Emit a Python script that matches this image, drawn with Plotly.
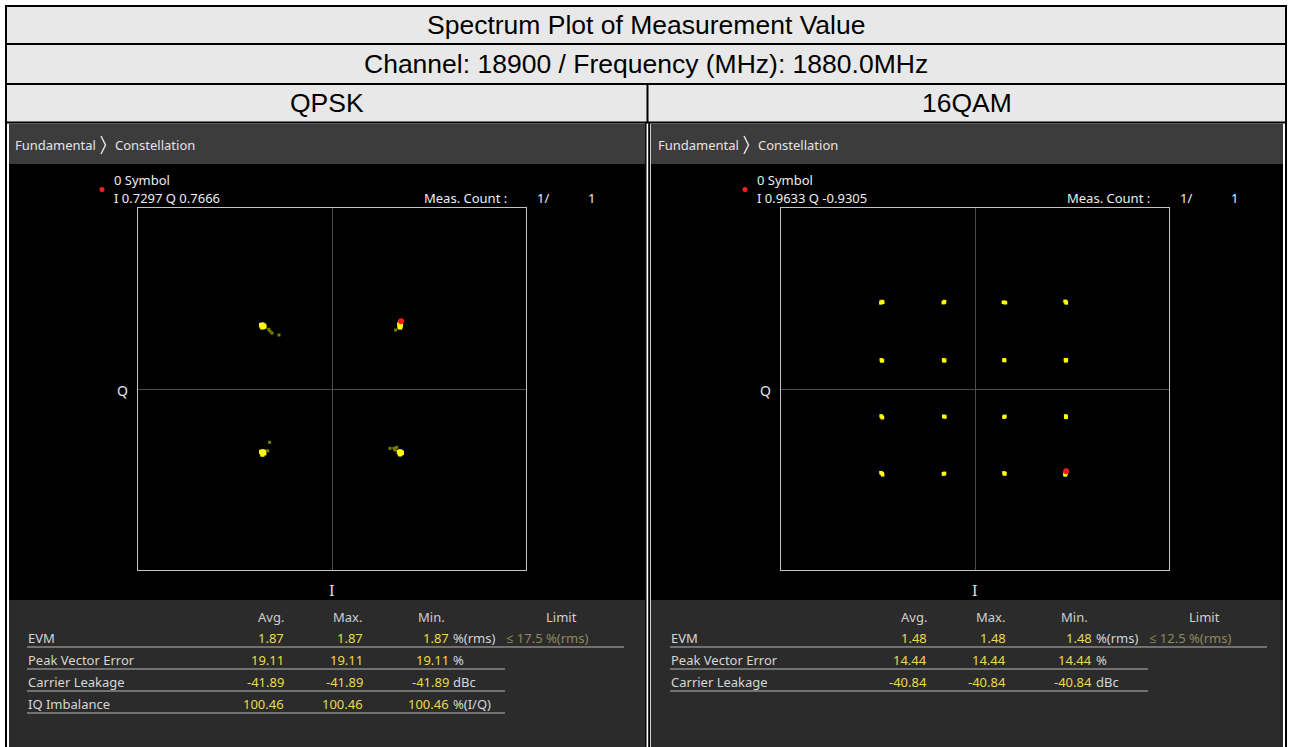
import plotly.graph_objects as go

W, H = 1291, 747

# ---------------- data ----------------
title_rows = ["Spectrum Plot of Measurement Value",
              "Channel: 18900 / Frequency (MHz): 1880.0MHz"]
panel_titles = ["QPSK", "16QAM"]
breadcrumb = ["Fundamental", "Constellation"]

marker_I = [0.7297, 0.9633]
marker_Q = [0.7666, -0.9305]
meas_count = ["1/", "1"]

table_headers = ["Avg.", "Max.", "Min.", "Limit"]
qpsk_metrics = ["EVM", "Peak Vector Error", "Carrier Leakage", "IQ Imbalance"]
qpsk_avg = ["1.87", "19.11", "-41.89", "100.46"]
qpsk_max = ["1.87", "19.11", "-41.89", "100.46"]
qpsk_min = ["1.87", "19.11", "-41.89", "100.46"]
qpsk_units = ["%(rms)", "%", "dBc", "%(I/Q)"]
qpsk_limit = "≤ 17.5 %(rms)"

qam_metrics = ["EVM", "Peak Vector Error", "Carrier Leakage"]
qam_avg = ["1.48", "14.44", "-40.84"]
qam_max = ["1.48", "14.44", "-40.84"]
qam_min = ["1.48", "14.44", "-40.84"]
qam_units = ["%(rms)", "%", "dBc"]
qam_limit = "≤ 12.5 %(rms)"

# constellation symbols
qpsk_I = [-0.750, -0.735, -0.720, -0.745, -0.728, -0.712, -0.738, -0.722,
          0.710, 0.725, 0.718, 0.730, 0.712, 0.726, 0.720,
          -0.750, -0.735, -0.720, -0.742, -0.728, -0.715, -0.735,
          0.705, 0.720, 0.735, 0.712, 0.728, 0.740, 0.720]
qpsk_Q = [0.725, 0.732, 0.722, 0.710, 0.713, 0.708, 0.697, 0.700,
          0.735, 0.740, 0.722, 0.725, 0.705, 0.710, 0.695,
          -0.712, -0.705, -0.710, -0.728, -0.725, -0.730, -0.745,
          -0.712, -0.705, -0.715, -0.728, -0.730, -0.725, -0.742]
qpsk_tail_I = [-0.669, -0.655, -0.634, -0.560, 0.673, -0.659, -0.680, 0.613, 0.655, 0.684, 0.666]
qpsk_tail_Q = [0.676, 0.655, 0.634, 0.612, 0.668, -0.604, -0.700, -0.672, -0.672, -0.660, -0.691]

qam_I = [-0.995, -0.980, -0.975, -0.335, -0.322, -0.328, 0.300, 0.312, 0.322, 0.955, 0.965, 0.962,
         -0.990, -0.978, -0.985, -0.332, -0.320, -0.326, 0.305, 0.314, 0.310, 0.955, 0.966, 0.960,
         -0.992, -0.982, -0.978, -0.330, -0.318, -0.325, 0.306, 0.316, 0.311, 0.958, 0.964, 0.961,
         -0.992, -0.980, -0.976, -0.334, -0.322, -0.328, 0.306, 0.316, 0.312, 0.950, 0.962, 0.956]
qam_Q = [0.975, 0.990, 0.982, 0.978, 0.990, 0.982, 0.982, 0.980, 0.978, 0.992, 0.975, 0.984,
         0.330, 0.322, 0.318, 0.330, 0.325, 0.318, 0.326, 0.322, 0.330, 0.332, 0.330, 0.318,
         -0.305, -0.318, -0.325, -0.310, -0.316, -0.312, -0.318, -0.310, -0.314, -0.305, -0.315, -0.322,
         -0.948, -0.960, -0.972, -0.962, -0.955, -0.960, -0.950, -0.958, -0.962, -0.965, -0.955, -0.972]
qam_tail_I = [-0.995, 0.945, 0.950, -0.998]
qam_tail_Q = [0.995, 0.995, -0.975, -0.945]

# ---------------- helpers ----------------
def X(px):
    return px / W


def Y(py):
    return 1 - py / H


shapes = []
annotations = []


def rect(x0, y0, x1, y1, fill, line_color=None, lw=0, layer="below"):
    shapes.append(dict(type="rect", xref="paper", yref="paper",
                       x0=X(x0), x1=X(x1), y0=Y(y1), y1=Y(y0),
                       fillcolor=fill, layer=layer,
                       line=dict(color=line_color or fill, width=lw)))


def line(x0, y0, x1, y1, color, lw, layer="below"):
    shapes.append(dict(type="line", xref="paper", yref="paper",
                       x0=X(x0), x1=X(x1), y0=Y(y0), y1=Y(y1), layer=layer,
                       line=dict(color=color, width=lw)))


def text(px, py, s, size=13, color="#e0e0e0", anchor="left",
         family="Noto Sans, Open Sans, sans-serif"):
    annotations.append(dict(x=X(px), y=Y(py), xref="paper", yref="paper",
                            text=s, showarrow=False, xanchor=anchor, yanchor="middle",
                            font=dict(size=size, color=color, family=family)))


HDR_FONT = "Liberation Sans, Arial, sans-serif"

# ---------------- header table ----------------
rect(6, 6, 1286, 122, "#e8e8e8")
for yy in [6, 44, 84, 122.5]:
    line(5, yy, 1287, yy, "black", 2)
line(6, 5, 6, 747, "black", 2)
line(1286, 5, 1286, 747, "black", 2)
line(647.5, 84, 647.5, 123, "black", 2)

text(646, 25, title_rows[0], 26.5, "black", "center", HDR_FONT)
text(646, 64.5, title_rows[1], 26.5, "black", "center", HDR_FONT)
text(327, 103.5, panel_titles[0], 26.5, "black", "center", HDR_FONT)
text(967, 103.5, panel_titles[1], 26.5, "black", "center", HDR_FONT)

# ---------------- panels ----------------
YEL = "#e8dc4a"
LIM = "#8f8a5c"
LBL = "#d6d6d6"

panels = [
    dict(off=0, x0=9, x1=645, metrics=qpsk_metrics, avg=qpsk_avg, mx=qpsk_max,
         mn=qpsk_min, units=qpsk_units, limit=qpsk_limit),
    dict(off=643, x0=651, x1=1283, metrics=qam_metrics, avg=qam_avg, mx=qam_max,
         mn=qam_min, units=qam_units, limit=qam_limit),
]

line(645.8, 122, 645.8, 747, "black", 1.5)
line(649.2, 122, 649.2, 747, "black", 2)

for k, p in enumerate(panels):
    o = p["off"]
    rect(p["x0"], 123.5, p["x1"], 164, "#3c3c3c")
    rect(p["x0"], 164, p["x1"], 600, "black")
    rect(p["x0"], 600, p["x1"], 747, "#2b2b2b")

    # breadcrumb
    text(13 + o, 145, breadcrumb[0], 13, "#e4e4e4")
    text(113 + o, 145, breadcrumb[1], 13, "#e4e4e4")
    shapes.append(dict(type="path", xref="paper", yref="paper", layer="above",
                       path="M %f,%f L %f,%f L %f,%f" % (X(101 + o), Y(136), X(105.5 + o), Y(145),
                                                         X(101 + o), Y(154)),
                       line=dict(color="#e0e0e0", width=1.5)))

    # symbol info
    shapes.append(dict(type="circle", xref="paper", yref="paper", layer="above",
                       x0=X(99.5 + o), x1=X(104.5 + o), y0=Y(192), y1=Y(187),
                       fillcolor="#ff1e1e", line=dict(width=0)))
    text(112 + o, 179.5, "0 Symbol", 13, "#eeeeee")
    text(112 + o, 198, "I %.4f Q %.4f" % (marker_I[k], marker_Q[k]), 13, "#eeeeee")
    text(422 + o, 198, "Meas. Count :", 13, "#eeeeee")
    text(535 + o, 198, meas_count[0], 13, "#eeeeee")
    text(591.5 + o, 198, meas_count[1], 13, "#eeeeee", "center")

    # axis labels
    text(122 + o, 390, "Q", 14, "#e6e6e6", "center")
    text(332 + o, 591, "I", 14, "#e6e6e6", "center", "DejaVu Serif, serif")

    # results table
    text(286 + o, 617, table_headers[0], 13, "#cfcfcf", "right")
    text(364 + o, 617, table_headers[1], 13, "#cfcfcf", "right")
    text(416 + o, 617, table_headers[2], 13, "#cfcfcf", "left")
    text(579 + o, 617, table_headers[3], 13, "#cfcfcf", "right")
    for r, name in enumerate(p["metrics"]):
        yy = 637.5 + 22 * r
        text(26 + o, yy, name, 13, LBL)
        text(286 + o, yy, p["avg"][r], 13, YEL, "right")
        text(365 + o, yy, p["mx"][r], 13, YEL, "right")
        text(451 + o, yy, p["mn"][r], 13, YEL, "right")
        text(451 + o, yy, p["units"][r], 13, LBL, "left")
        lx1 = 624 if r == 0 else 505
        line(27 + o, yy + 9.5, lx1 + o, yy + 9.5, "#8a8a8a", 1.5, "above")
    text(504 + o, 637.5, p["limit"], 13, LIM, "left")

# ---------------- traces ----------------
fig = go.Figure()


def pts(xs, ys, color, size, ax, symbol="square"):
    fig.add_trace(go.Scatter(x=xs, y=ys, mode="markers", xaxis=ax[0], yaxis=ax[1],
                             marker=dict(color=color, size=size, symbol=symbol,
                                         line=dict(width=0)),
                             hoverinfo="skip", showlegend=False))


pts(qpsk_tail_I, qpsk_tail_Q, "#7d7d00", 3, ("x", "y"))
pts(qpsk_I, qpsk_Q, "#ffff00", 4, ("x", "y"))
pts([marker_I[0]], [marker_Q[0]], "#ff1a1a", 6, ("x", "y"), "circle")

pts(qam_tail_I, qam_tail_Q, "#7d7d00", 3, ("x2", "y2"))
pts(qam_I, qam_Q, "#ffff00", 3.5, ("x2", "y2"))
pts([marker_I[1]], [marker_Q[1]], "#ff1a1a", 6, ("x2", "y2"), "circle")

axis_common = dict(showgrid=False, zeroline=True, zerolinecolor="#4c4c4c", zerolinewidth=1,
                   showline=True, mirror=True, linecolor="#c4c4c4", linewidth=1,
                   showticklabels=False, ticks="", fixedrange=True)

fig.update_layout(
    width=W, height=H,
    margin=dict(l=0, r=0, t=0, b=0),
    paper_bgcolor="white",
    plot_bgcolor="black",
    xaxis=dict(domain=[X(138), X(526)], range=[-2.05, 2.05], **axis_common),
    yaxis=dict(domain=[Y(570), Y(208)], range=[-2.05, 2.05], **axis_common),
    xaxis2=dict(domain=[X(781), X(1169)], range=[-2.05, 2.05], anchor="y2", **axis_common),
    yaxis2=dict(domain=[Y(570), Y(208)], range=[-2.05, 2.05], anchor="x2", **axis_common),
    shapes=shapes,
    annotations=annotations,
)

fig.write_html("out.html", config={"displayModeBar": False},
               post_script="document.body.style.margin='0px';document.body.style.overflow='hidden';")
